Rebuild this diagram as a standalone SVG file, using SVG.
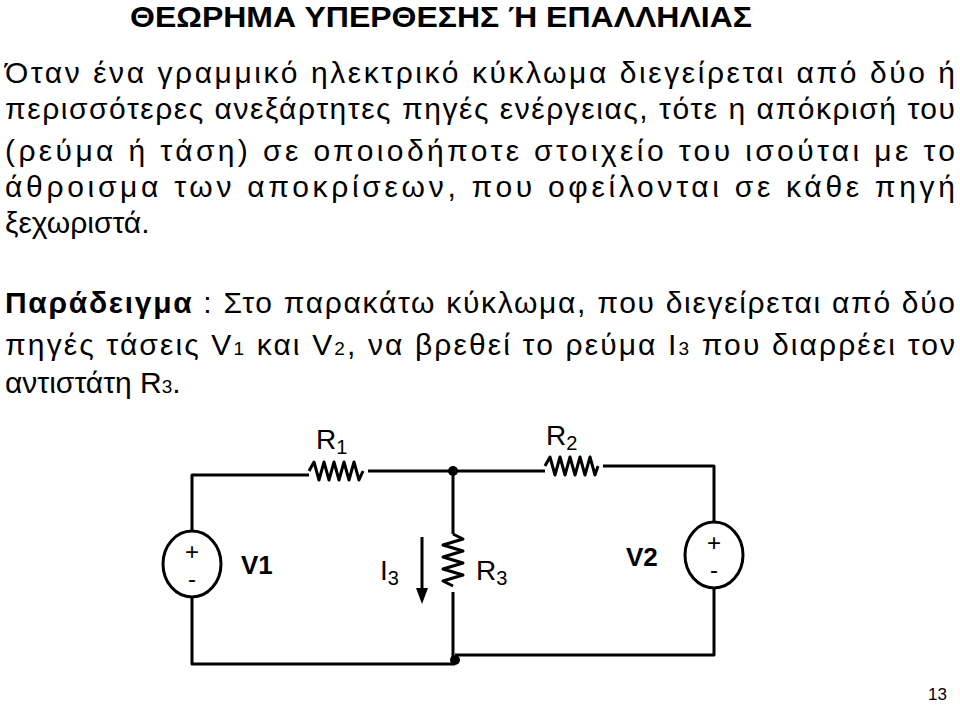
<svg xmlns="http://www.w3.org/2000/svg" width="960" height="705" viewBox="0 0 960 705">
<style>
text{font-family:"Liberation Sans",Arial,sans-serif;fill:#000}
.p{font-size:30px}
.w{stroke:#000;stroke-width:3;fill:none;stroke-linejoin:round}
.l{font-size:28px}
</style>
<rect width="960" height="705" fill="#fff"/>
<text x="130" y="27" font-size="30" font-weight="bold" textLength="622" lengthAdjust="spacingAndGlyphs">ΘΕΩΡΗΜΑ ΥΠΕΡΘΕΣΗΣ Ή ΕΠΑΛΛΗΛΙΑΣ</text>
<text class="p" x="5" y="83" textLength="950">Όταν ένα γραμμικό ηλεκτρικό κύκλωμα διεγείρεται από δύο ή</text>
<text class="p" x="5" y="119" textLength="950">περισσότερες ανεξάρτητες πηγές ενέργειας, τότε η απόκρισή του</text>
<text class="p" x="5" y="161" textLength="950">(ρεύμα ή τάση) σε οποιοδήποτε στοιχείο του ισούται με το</text>
<text class="p" x="5" y="197" textLength="950">άθροισμα των αποκρίσεων, που οφείλονται σε κάθε πηγή</text>
<text class="p" x="5" y="233">ξεχωριστά.</text>
<text class="p" x="5" y="313" textLength="950"><tspan font-weight="bold">Παράδειγμα</tspan> : Στο παρακάτω κύκλωμα, που διεγείρεται από δύο</text>
<text class="p" x="5" y="355" textLength="950">πηγές τάσεις V<tspan font-size="19">1</tspan> και V<tspan font-size="19">2</tspan>, να βρεθεί το ρεύμα I<tspan font-size="19">3</tspan> που διαρρέει τον</text>
<text class="p" x="5" y="393">αντιστάτη R<tspan font-size="19">3</tspan>.</text>
<g id="wires">
<path class="w" d="M192,531 V475 H309 M368,471 H545 M603,466 H714 V522 M714,588 V655 H455 M192,597 V664 H455"/>
<path class="w" d="M453,471 V534 M453,592 V660"/>
<path class="w" d="M422,537 V590"/>
<path d="M416,588 L428,588 L422,604 Z"/>
</g>
<g id="R1"><path class="w" d="M309,471 l5,-9 l5,18 l5,-18 l5,18 l5,-18 l5,18 l5,-18 l5,18 l5,-18 l5,18 l4,-9"/><text class="l" x="316" y="449">R<tspan font-size="20" dy="5">1</tspan></text></g>
<g id="R2"><path class="w" d="M545,466 l5,-9 l5,18 l5,-18 l5,18 l5,-18 l5,18 l5,-18 l5,18 l5,-18 l5,18 l3,-9"/><text class="l" x="546" y="445">R<tspan font-size="20" dy="5">2</tspan></text></g>
<g id="R3"><path class="w" d="M453,534 l10,5 l-20,6 l20,6 l-20,6 l20,6 l-20,6 l20,6 l-20,6 l10,5"/><text class="l" x="476" y="580">R<tspan font-size="20" dy="5">3</tspan></text><text class="l" x="380" y="580">I<tspan font-size="20" dy="5">3</tspan></text></g>
<g id="V1"><ellipse class="w" cx="192" cy="564" rx="29" ry="33"/><text x="192" y="560" font-size="24" text-anchor="middle">+</text><text x="192" y="587" font-size="24" text-anchor="middle">-</text><text x="241" y="574" font-size="26" font-weight="bold">V1</text></g>
<g id="V2"><ellipse class="w" cx="714" cy="555" rx="29" ry="33"/><text x="714" y="551" font-size="24" text-anchor="middle">+</text><text x="714" y="578" font-size="24" text-anchor="middle">-</text><text x="626" y="566" font-size="26" font-weight="bold">V2</text></g>
<g id="dots"><circle cx="453" cy="471" r="5"/><circle cx="455" cy="660" r="5"/></g>
<text x="928" y="700" font-size="17">13</text>
</svg>
